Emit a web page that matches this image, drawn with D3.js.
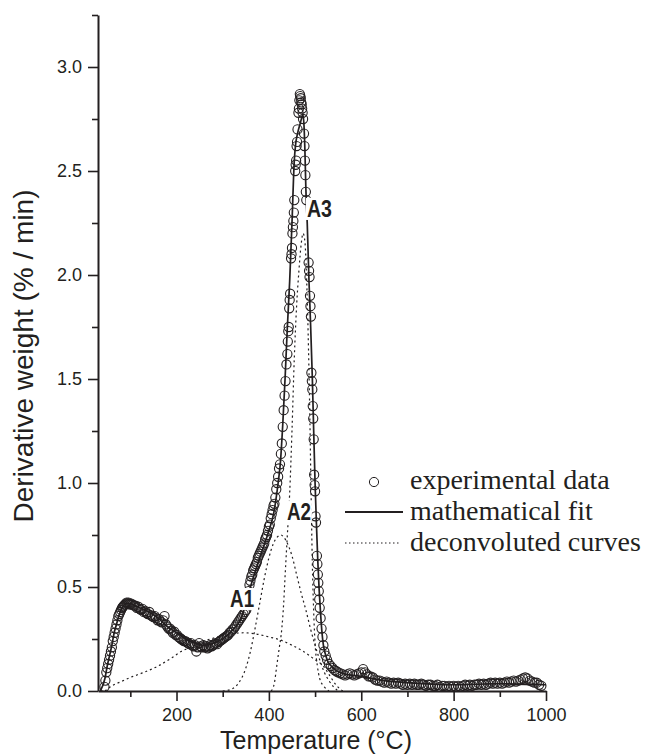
<!DOCTYPE html>
<html>
<head>
<meta charset="utf-8">
<script src="https://cdn.jsdelivr.net/npm/d3@7/dist/d3.min.js"></script>
<style>
  body { margin: 0; background: #fff; }
</style>
</head>
<body>
<script>
// experimental points [temperature, derivative weight]
var expData = [
  [44,0.02],[46,0.05],[48,0.09],[50,0.11],[52,0.13],[54,0.15],[56,0.17],[58,0.19],[60,0.21],[62,0.24],
  [64,0.26],[66,0.28],[68,0.30],[70,0.32],[72,0.34],[74,0.36],[76,0.37],[78,0.38],[80,0.39],[82,0.40],
  [84,0.405],[86,0.41],[88,0.415],[90,0.42],[92,0.425],[94,0.42],[96,0.425],[98,0.42],[100,0.415],
  [102,0.42],[105,0.415],[108,0.41],[111,0.41],[114,0.40],[117,0.405],[120,0.395],[123,0.39],[126,0.395],[129,0.38],
  [132,0.385],[135,0.375],[138,0.37],[141,0.38],[144,0.365],[147,0.36],[150,0.355],[153,0.36],[156,0.35],[159,0.34],
  [162,0.345],[165,0.335],[168,0.33],[171,0.34],[174,0.36],[177,0.32],[180,0.31],[183,0.30],[186,0.30],[189,0.29],
  [192,0.28],[195,0.285],[198,0.27],[201,0.27],[204,0.26],[207,0.255],[210,0.25],[213,0.245],[216,0.24],[219,0.24],
  [222,0.235],[225,0.23],[228,0.225],[231,0.23],[234,0.22],[237,0.215],[240,0.22],[243,0.19],[246,0.21],[249,0.23],
  [252,0.215],[255,0.21],[258,0.22],[261,0.21],[264,0.215],[267,0.205],[270,0.21],[273,0.22],[276,0.215],[279,0.22],
  [282,0.225],[285,0.23],[288,0.225],[291,0.235],[294,0.24],[297,0.245],[300,0.25],[303,0.255],[306,0.26],[309,0.265],
  [312,0.27],[315,0.28],[318,0.285],[321,0.295],[324,0.30],[327,0.31],[330,0.32],[333,0.33],[336,0.34],[339,0.35],
  [342,0.36],[345,0.37],[348,0.38],[351,0.39],[354,0.42],
  [356,0.48],[358,0.51],[360,0.53],[362,0.55],[364,0.56],[366,0.58],[368,0.59],[370,0.60],[372,0.61],[374,0.62],
  [376,0.64],[378,0.65],[380,0.66],[382,0.67],[384,0.68],[386,0.69],[388,0.70],[390,0.71],[392,0.73],[394,0.74],
  [396,0.75],[398,0.77],[400,0.79],[402,0.80],[404,0.83],[406,0.85],[408,0.87],[410,0.89],[412,0.90],[414,0.93],
  [416,0.97],[418,1.00],[420,1.03],[422,1.07],[424,1.09],[426,1.14],[428,1.19],[430,1.27],[432,1.35],[434,1.42],
  [436,1.49],[438,1.57],
  [440,1.62],[441,1.68],[442,1.73],[443,1.75],[444,1.84],[445,1.88],[446,1.91],[448,2.08],[449,2.10],[450,2.13],
  [451,2.20],[452,2.23],[453,2.26],[454,2.30],[455,2.36],[457,2.50],[458,2.53],[459,2.55],[460,2.62],[461,2.64],
  [462,2.70],[464,2.78],[465,2.80],[466,2.84],[467,2.87],[468,2.86],[469,2.85],[470,2.83],[471,2.82],[472,2.80],
  [473,2.78],[474,2.75],[476,2.68],[477,2.62],[478,2.55],[479,2.48],[480,2.40],[481,2.36],
  [486,2.06],[487,2.02],[488,1.99],[489,1.90],[490,1.85],[491,1.80],[492,1.53],[493,1.49],[494,1.45],[495,1.37],
  [496,1.31],[497,1.21],[498,1.04],[499,0.99],[500,0.96],[501,0.84],[502,0.81],
  [504,0.65],[505,0.61],[506,0.56],[507,0.52],[508,0.48],[509,0.44],[510,0.40],[512,0.35],[514,0.30],[516,0.26],
  [518,0.22],[520,0.19],[523,0.17],[526,0.15],[530,0.13],[534,0.12],[538,0.11],[542,0.10],[546,0.095],[550,0.09],
  [555,0.085],
  [560,0.08],[565,0.075],[570,0.08],[575,0.085],[580,0.08],[585,0.075],[590,0.08],[595,0.085],[600,0.09],[604,0.105],
  [608,0.09],[612,0.08],[616,0.07],[620,0.07],[625,0.065],[630,0.055],[635,0.05],[640,0.05],[645,0.045],[650,0.04],
  [655,0.045],[660,0.04],[665,0.035],[670,0.04],[675,0.035],[680,0.04],[685,0.035],[690,0.03],[695,0.035],[700,0.03],
  [705,0.035],[710,0.03],[715,0.035],[720,0.03],[725,0.03],[730,0.035],[735,0.03],[740,0.025],[745,0.03],[750,0.03],
  [755,0.025],[760,0.025],[765,0.03],[770,0.02],[775,0.025],[780,0.025],[785,0.02],[790,0.025],[795,0.02],[800,0.025],
  [805,0.02],[810,0.025],[815,0.02],[820,0.025],[825,0.03],[830,0.025],[835,0.03],[840,0.025],[845,0.03],[850,0.03],
  [855,0.035],[860,0.03],[865,0.035],[870,0.03],[875,0.035],[880,0.04],[885,0.035],[890,0.04],[895,0.035],[900,0.04],
  [905,0.035],[910,0.04],[915,0.045],[920,0.04],[925,0.045],[930,0.05],[935,0.045],[940,0.05],[945,0.055],[950,0.06],
  [955,0.065],[960,0.06],[965,0.05],[970,0.045],[975,0.04],[980,0.04],[985,0.03],[990,0.025]
];

// mathematical fit
var fitTemp  = [35,45,50,55,60,65,70,75,80,85,90,100,110,120,140,160,180,200,220,240,260,280,300,320,340,360,380,400,410,420,
                425,430,435,440,445,450,455,458,462,468,474,476,478,480,483,487,490,494,497,500,503,506,509,512,515,518,522,528,535,545,
                560,600,650,700,800,900,1000];
var fitDeriv = [0.0,0.06,0.12,0.17,0.22,0.28,0.32,0.36,0.39,0.41,0.42,0.42,0.41,0.40,0.38,0.35,0.31,0.28,0.25,0.23,0.22,0.23,0.25,0.29,0.35,0.50,0.64,0.77,0.85,1.00,
                1.10,1.28,1.50,1.75,1.97,2.25,2.55,2.63,2.68,2.73,2.77,2.72,2.60,2.42,2.25,1.96,1.78,1.51,1.25,1.00,0.80,0.62,0.48,0.37,0.28,0.22,0.18,0.14,0.12,0.10,
                0.085,0.07,0.05,0.04,0.03,0.035,0.03];

// deconvoluted curves
var a1Temp  = [45,60,80,100,130,160,190,210,230,260,290,320,345,370,400,425,450,475,500,518,530,545,560];
var a1Deriv = [0.0,0.025,0.045,0.065,0.09,0.12,0.16,0.19,0.21,0.24,0.26,0.275,0.28,0.275,0.26,0.245,0.22,0.19,0.15,0.12,0.08,0.03,0.0];
var a2Temp  = [300,320,335,350,360,370,380,390,400,410,418,426,432,440,450,460,470,480,490,500,510,520,530,540,550];
var a2Deriv = [0.0,0.01,0.04,0.11,0.19,0.30,0.42,0.54,0.64,0.71,0.74,0.75,0.74,0.71,0.65,0.56,0.47,0.39,0.30,0.22,0.15,0.09,0.05,0.02,0.0];
var a3Temp  = [405,412,417,422,428,432,435,440,445,450,455,460,465,470,474,478,482,485,488,491,494,497,500,505,510,520,530];
var a3Deriv = [0.0,0.04,0.12,0.20,0.30,0.42,0.55,0.75,0.95,1.25,1.60,1.85,2.02,2.15,2.20,2.16,1.96,1.72,1.40,1.00,0.62,0.38,0.23,0.12,0.06,0.02,0.0];

// ticks and labels
var xMajorTicks = [200,400,600,800,1000];
var xMinorTicks = [100,300,500,700,900];
var yMajorTicks = [0,0.5,1.0,1.5,2.0,2.5,3.0];
var yMinorTicks = [0.25,0.75,1.25,1.75,2.25,2.75,3.25];
var peakLabels = ["A1","A2","A3"];
var legendLabels = ["experimental data","mathematical fit","deconvoluted curves"];

//Width and height of svg
var w = 648;
var h = 754;
var ink = "#231f20";
var sans = "'Liberation Sans', Arial, sans-serif";
var serif = "'Liberation Serif', 'Times New Roman', serif";

var xScale = d3.scaleLinear().domain([30, 1000]).range([98, 546]);
var yScale = d3.scaleLinear().domain([0, 3.25]).range([691, 15]);

var svg = d3.select("body")
            .append("svg")
            .attr("width", w)
            .attr("height", h);

var line = d3.line()
             .x(function(d) { return xScale(d[0]); })
             .y(function(d) { return yScale(d[1]); })
             .curve(d3.curveMonotoneX);

//deconvoluted (dotted) curves
[[a1Temp, a1Deriv], [a2Temp, a2Deriv], [a3Temp, a3Deriv]].forEach(function(c) {
  svg.append("path")
     .datum(d3.zip(c[0], c[1]))
     .attr("d", line)
     .attr("fill", "none")
     .attr("stroke", ink)
     .attr("stroke-width", 1.2)
     .attr("stroke-dasharray", "2,3");
});

//fit line
svg.append("path")
   .datum(d3.zip(fitTemp, fitDeriv))
   .attr("d", line)
   .attr("fill", "none")
   .attr("stroke", ink)
   .attr("stroke-width", 1.7);

//experimental points
svg.selectAll("circle.exp")
   .data(expData)
   .enter()
   .append("circle")
   .attr("class", "exp")
   .attr("cx", function(d) { return xScale(d[0]); })
   .attr("cy", function(d) { return yScale(d[1]); })
   .attr("r", 4.6)
   .attr("fill", "none")
   .attr("stroke", ink)
   .attr("stroke-width", 1.1);

//axes
function styleAxis(g) {
  g.select(".domain").attr("stroke", ink).attr("stroke-width", 2);
  g.selectAll(".tick line").attr("stroke", ink).attr("stroke-width", 1.6);
  g.selectAll(".tick text").attr("fill", ink).attr("font-family", sans).attr("font-size", "18px");
}

var xAxis = svg.append("g")
   .attr("transform", "translate(0,691)")
   .call(d3.axisBottom(xScale).tickValues(xMajorTicks).tickSize(10).tickSizeOuter(0).tickPadding(7).tickFormat(d3.format("d")));
styleAxis(xAxis);
var xMinor = svg.append("g")
   .attr("transform", "translate(0,691)")
   .call(d3.axisBottom(xScale).tickValues(xMinorTicks).tickSize(6).tickSizeOuter(0).tickFormat(""));
xMinor.select(".domain").remove();
styleAxis(xMinor);

var yAxis = svg.append("g")
   .attr("transform", "translate(98,0)")
   .call(d3.axisLeft(yScale).tickValues(yMajorTicks).tickSize(10).tickSizeOuter(0).tickPadding(6).tickFormat(d3.format(".1f")));
styleAxis(yAxis);
var yMinor = svg.append("g")
   .attr("transform", "translate(98,0)")
   .call(d3.axisLeft(yScale).tickValues(yMinorTicks).tickSize(6).tickSizeOuter(0).tickFormat(""));
yMinor.select(".domain").remove();
styleAxis(yMinor);

//axis titles
svg.append("text")
   .attr("transform", "translate(33,356) rotate(-90)")
   .attr("text-anchor", "middle")
   .attr("font-family", sans)
   .attr("font-size", "28px")
   .attr("fill", ink)
   .text("Derivative weight (% / min)");

svg.append("text")
   .attr("x", 316)
   .attr("y", 748.5)
   .attr("text-anchor", "middle")
   .attr("font-family", sans)
   .attr("font-size", "25px")
   .attr("fill", ink)
   .text("Temperature (\u00B0C)");

//peak labels, with a white box behind them
var labelAt = [[316, 0.404], [439, 0.822], [482.5, 2.279]];
peakLabels.forEach(function(lab, i) {
  var g = svg.append("g");
  var t = g.append("text")
     .attr("x", xScale(labelAt[i][0]))
     .attr("y", yScale(labelAt[i][1]))
     .attr("font-family", sans)
     .attr("font-weight", "bold")
     .attr("font-size", "23px")
     .attr("textLength", i == 2 ? 25 : 24)
     .attr("lengthAdjust", "spacingAndGlyphs")
     .attr("fill", ink)
     .text(lab);
  var b = t.node().getBBox();
  g.insert("rect", "text")
   .attr("x", b.x - 1)
   .attr("y", b.y + 2)
   .attr("width", b.width + 2)
   .attr("height", b.height - 4)
   .attr("fill", "#fff");
});

//legend
var legend = svg.append("g").attr("transform", "translate(345,489)");
legend.append("circle")
      .attr("cx", 29).attr("cy", -7).attr("r", 4.6)
      .attr("fill", "none").attr("stroke", ink).attr("stroke-width", 1);
legend.append("line")
      .attr("x1", 0).attr("x2", 58).attr("y1", 23).attr("y2", 23)
      .attr("stroke", ink).attr("stroke-width", 2);
legend.append("line")
      .attr("x1", 0).attr("x2", 54).attr("y1", 54).attr("y2", 54)
      .attr("stroke", ink).attr("stroke-width", 1.1).attr("stroke-dasharray", "1.5,2.5");
legend.selectAll("text")
      .data(legendLabels)
      .enter()
      .append("text")
      .attr("x", 65)
      .attr("y", function(d, i) { return i * 31; })
      .attr("font-family", serif)
      .attr("font-size", "28px")
      .attr("fill", ink)
      .text(function(d) { return d; });
</script>
</body>
</html>
